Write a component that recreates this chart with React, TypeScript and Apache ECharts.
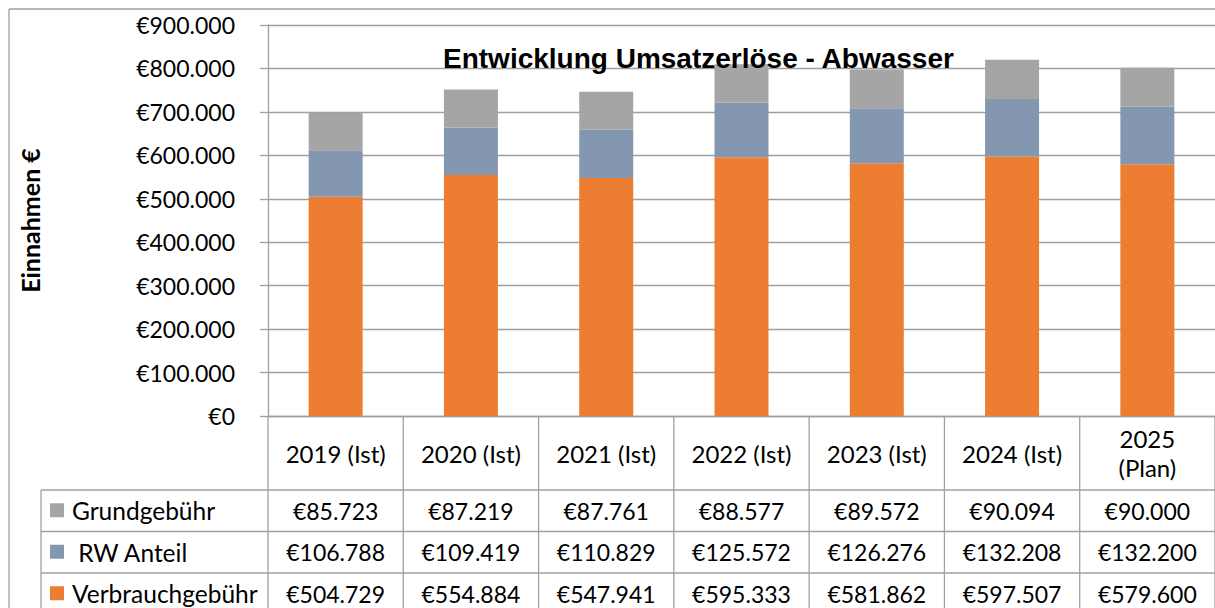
import React, { useEffect, useRef } from 'react';
import * as echarts from 'echarts';

const categories = ['2019 (Ist)', '2020 (Ist)', '2021 (Ist)', '2022 (Ist)', '2023 (Ist)', '2024 (Ist)', '2025\n(Plan)'];
const grundgebuehr = [85723, 87219, 87761, 88577, 89572, 90094, 90000];
const rwAnteil = [106788, 109419, 110829, 125572, 126276, 132208, 132200];
const verbrauchgebuehr = [504729, 554884, 547941, 595333, 581862, 597507, 579600];
const yMin = 0;
const yMax = 900000;
const yInterval = 100000;
const titleText = 'Entwicklung Umsatzerlöse - Abwasser';
const yAxisName = 'Einnahmen €';

const tableRows = [
  { name: 'Grundgebühr', values: grundgebuehr, color: '#A5A5A5' },
  { name: ' RW Anteil', values: rwAnteil, color: '#8497B0' },
  { name: 'Verbrauchgebühr', values: verbrauchgebuehr, color: '#ED7D31' },
];

const FONT = 'Lato';
const LINE = '#A0A0A0';

const fmt = (v: number) => '€' + String(v).replace(/\B(?=(\d{3})+(?!\d))/g, '.');

export default function App() {
  const ref = useRef<HTMLDivElement>(null);
  useEffect(() => {
    document.body.style.margin = '0';
    const chart = echarts.init(ref.current!, null, { renderer: 'svg' });
    chart.setOption({
      animation: false,
      backgroundColor: '#fff',
      title: {
        text: titleText,
        left: 443,
        top: 44,
        padding: 0,
        textStyle: { fontFamily: 'Liberation Sans', fontWeight: 'bold', fontSize: 28, color: '#000' },
      },
      grid: { left: 268, right: -5, top: 25, bottom: 192, containLabel: false },
      xAxis: {
        type: 'category',
        data: categories,
        axisLine: { show: true, lineStyle: { color: LINE, width: 1.3 } },
        axisTick: { show: false },
        axisLabel: {
          margin: 37,
          verticalAlign: 'middle',
          fontSize: 24,
          lineHeight: 29,
          fontFamily: FONT,
          color: '#000',
          interval: 0,
        },
      },
      yAxis: {
        type: 'value',
        min: yMin,
        max: yMax,
        interval: yInterval,
        name: yAxisName,
        nameLocation: 'middle',
        nameRotate: 90,
        nameGap: 226,
        nameTextStyle: { fontFamily: FONT, fontWeight: 'bold', fontSize: 25, color: '#000' },
        axisLine: { show: true, lineStyle: { color: LINE, width: 1.3 } },
        axisTick: { show: true, length: 8, lineStyle: { color: LINE, width: 1.3 } },
        splitLine: { show: true, lineStyle: { color: LINE, width: 1.3 } },
        axisLabel: { margin: 33, fontSize: 23, fontFamily: FONT, color: '#000', formatter: (v: number) => fmt(v) },
      },
      series: [
        { name: 'Verbrauchgebühr', type: 'bar', stack: 'a', data: verbrauchgebuehr, barWidth: 54, itemStyle: { color: '#ED7D31' } },
        { name: 'RW Anteil', type: 'bar', stack: 'a', data: rwAnteil, barWidth: 54, itemStyle: { color: '#8497B0' } },
        { name: 'Grundgebühr', type: 'bar', stack: 'a', data: grundgebuehr, barWidth: 54, itemStyle: { color: '#A5A5A5' } },
      ],
    });

    const xs = categories.map((_, i) => chart.convertToPixel({ xAxisIndex: 0 }, i) as number);
    const colW = xs[1] - xs[0];
    const y0 = chart.convertToPixel({ yAxisIndex: 0 }, 0) as number;
    const headerBottom = 490;
    const rowH = 41.5;
    const tableLeft = 41;
    const W = 1215;
    const H = 608;
    const ls = { stroke: LINE, lineWidth: 1.3 };
    const g: any[] = [];
    g.push({ type: 'line', shape: { x1: 9, y1: 9, x2: W, y2: 9 }, style: ls });
    g.push({ type: 'line', shape: { x1: 9, y1: 9, x2: 9, y2: H }, style: ls });
    for (let i = 0; i <= categories.length; i++) {
      const x = xs[0] - colW / 2 + i * colW;
      g.push({ type: 'line', shape: { x1: x, y1: y0, x2: x, y2: H }, style: ls });
    }
    g.push({ type: 'line', shape: { x1: tableLeft, y1: headerBottom, x2: tableLeft, y2: H }, style: ls });
    for (let r = 0; r < tableRows.length; r++) {
      const yTop = headerBottom + r * rowH;
      g.push({ type: 'line', shape: { x1: tableLeft, y1: yTop, x2: W, y2: yTop }, style: ls });
      const yc = yTop + rowH / 2;
      const row = tableRows[r];
      g.push({ type: 'rect', shape: { x: 50, y: yc - 7.5, width: 14, height: 14 }, style: { fill: row.color } });
      g.push({
        type: 'text',
        style: { text: row.name, x: 72, y: yc, align: 'left', verticalAlign: 'middle', fontSize: 24.5, fontFamily: FONT, fill: '#000' },
      });
      row.values.forEach((v, i) => {
        g.push({
          type: 'text',
          style: { text: fmt(v), x: xs[i], y: yc, align: 'center', verticalAlign: 'middle', fontSize: 23, fontFamily: FONT, fill: '#000' },
        });
      });
    }
    chart.setOption({ graphic: g });
    return () => chart.dispose();
  }, []);
  return <div ref={ref} style={{ width: 1215, height: 608 }} />;
}
